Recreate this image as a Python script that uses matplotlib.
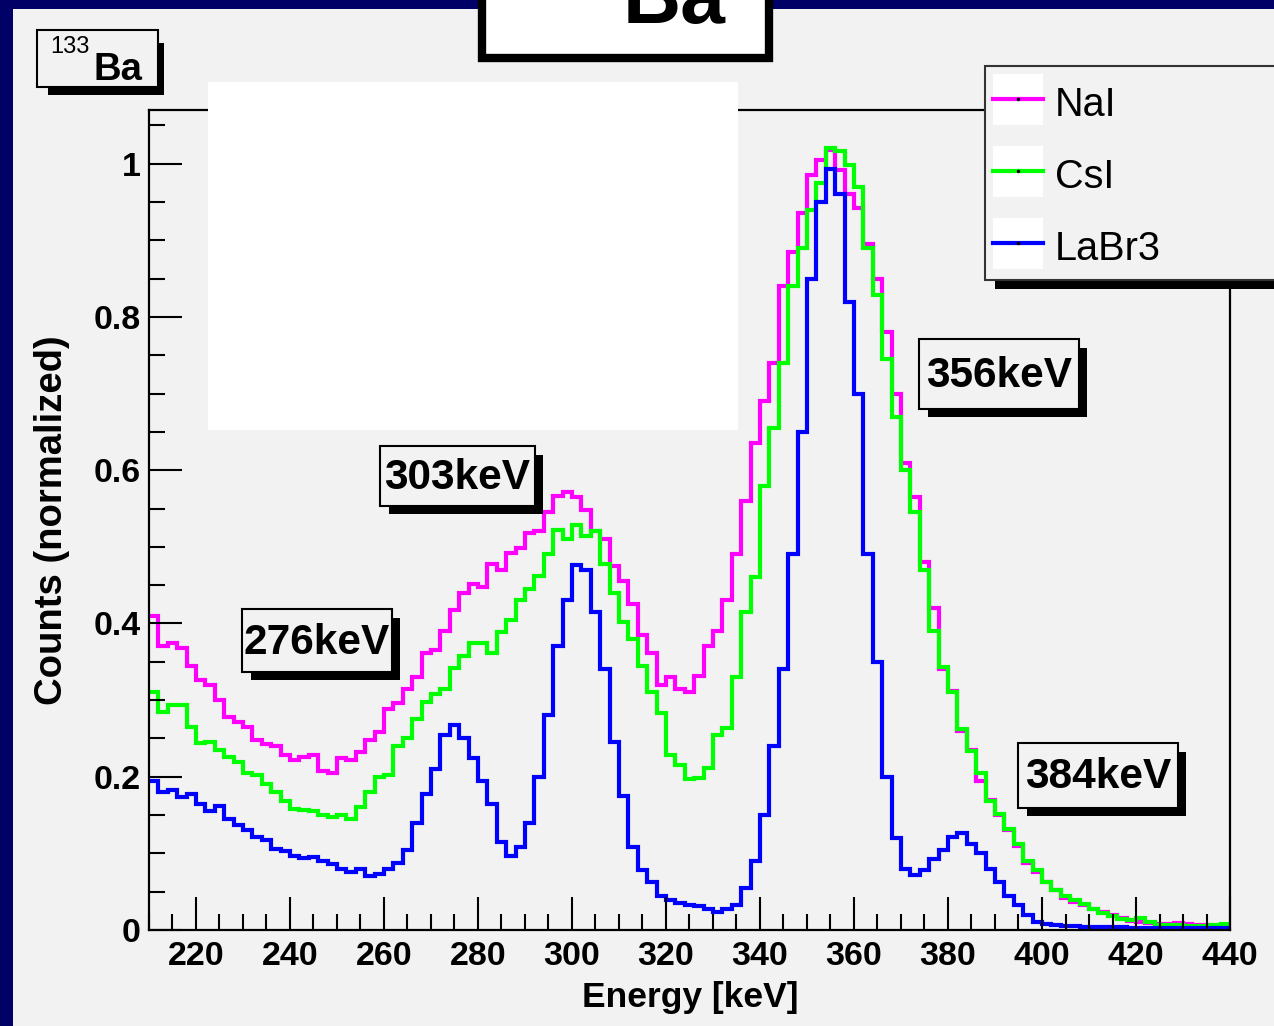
import numpy as np
import matplotlib.pyplot as plt
from matplotlib.patches import Rectangle
from matplotlib.lines import Line2D
from matplotlib.ticker import MultipleLocator

# histogram binning (keV)
edges = np.arange(210, 442, 2)

nai = [0.41, 0.37, 0.374, 0.368, 0.345, 0.326, 0.32, 0.30, 0.278, 0.272,
       0.265, 0.248, 0.243, 0.24, 0.228, 0.222, 0.226, 0.228, 0.208, 0.205,
       0.224, 0.222, 0.232, 0.248, 0.258, 0.288, 0.296, 0.315, 0.33, 0.362,
       0.365, 0.39, 0.418, 0.44, 0.452, 0.448, 0.478, 0.47, 0.492, 0.498,
       0.518, 0.521, 0.545, 0.566, 0.572, 0.565, 0.548, 0.52, 0.51, 0.475,
       0.455, 0.425, 0.385, 0.362, 0.32, 0.33, 0.314, 0.31, 0.332, 0.37,
       0.39, 0.43, 0.49, 0.56, 0.635, 0.69, 0.74, 0.84, 0.885, 0.935,
       0.985, 1.005, 1.018, 0.992, 0.96, 0.942, 0.895, 0.85, 0.78, 0.70,
       0.61, 0.565, 0.48, 0.42, 0.34, 0.312, 0.26, 0.235, 0.195, 0.17,
       0.15, 0.13, 0.11, 0.088, 0.076, 0.062, 0.052, 0.042, 0.037, 0.033,
       0.027, 0.023, 0.019, 0.016, 0.012, 0.01, 0.009, 0.008, 0.008, 0.009,
       0.008, 0.007, 0.006, 0.005, 0.005]

csi = [0.31, 0.285, 0.293, 0.293, 0.265, 0.244, 0.245, 0.235, 0.226, 0.219,
       0.205, 0.202, 0.19, 0.18, 0.168, 0.158, 0.156, 0.155, 0.15, 0.147,
       0.15, 0.145, 0.16, 0.18, 0.2, 0.202, 0.24, 0.25, 0.275, 0.298,
       0.308, 0.315, 0.342, 0.358, 0.374, 0.374, 0.362, 0.389, 0.405, 0.43,
       0.445, 0.462, 0.49, 0.522, 0.51, 0.528, 0.514, 0.52, 0.478, 0.44,
       0.402, 0.38, 0.345, 0.31, 0.283, 0.228, 0.215, 0.197, 0.198, 0.212,
       0.254, 0.263, 0.33, 0.415, 0.46, 0.58, 0.655, 0.74, 0.84, 0.89,
       0.94, 0.975, 1.02, 1.017, 0.998, 0.97, 0.89, 0.828, 0.745, 0.67,
       0.6, 0.545, 0.47, 0.39, 0.343, 0.31, 0.262, 0.233, 0.205, 0.168,
       0.152, 0.132, 0.112, 0.09, 0.078, 0.063, 0.052, 0.045, 0.039, 0.034,
       0.028, 0.022, 0.018, 0.015, 0.013, 0.016, 0.01, 0.007, 0.007, 0.006,
       0.005, 0.005, 0.005, 0.006, 0.008]

labr3 = [0.195, 0.18, 0.183, 0.174, 0.177, 0.165, 0.155, 0.162, 0.145, 0.137,
         0.13, 0.122, 0.117, 0.106, 0.103, 0.097, 0.094, 0.095, 0.09, 0.086,
         0.08, 0.076, 0.08, 0.07, 0.073, 0.08, 0.088, 0.105, 0.14, 0.178,
         0.21, 0.255, 0.268, 0.25, 0.225, 0.195, 0.165, 0.115, 0.097, 0.108,
         0.14, 0.2, 0.28, 0.37, 0.43, 0.476, 0.47, 0.415, 0.34, 0.245,
         0.175, 0.108, 0.078, 0.062, 0.045, 0.039, 0.035, 0.033, 0.031, 0.027,
         0.023, 0.027, 0.032, 0.055, 0.09, 0.15, 0.24, 0.34, 0.49, 0.65,
         0.85, 0.95, 0.993, 0.96, 0.82, 0.7, 0.49, 0.35, 0.2, 0.12,
         0.08, 0.072, 0.078, 0.092, 0.105, 0.122, 0.126, 0.112, 0.1, 0.08,
         0.062, 0.045, 0.032, 0.02, 0.011, 0.008, 0.006, 0.005, 0.005, 0.004,
         0.004, 0.004, 0.004, 0.004, 0.003, 0.003, 0.003, 0.003, 0.003, 0.003,
         0.003, 0.003, 0.003, 0.003, 0.003]

names = ["NaI", "CsI", "LaBr3"]
colors = ["#ff00ff", "#00ff00", "#0000ff"]
peaks = ["276keV", "303keV", "356keV", "384keV"]

plt.rcParams['font.family'] = ['Liberation Sans', 'DejaVu Sans']

W, H = 1274, 1026
BG = "#f2f2f2"
fig = plt.figure(figsize=(W / 100, H / 100), dpi=100, facecolor="#000066")


def fx(x):
    return x / W


def fy(y):
    return 1 - y / H


def box(x0, y0, x1, y1, z=2, **kw):
    r = Rectangle((fx(x0), fy(y1)), (x1 - x0) / W, (y1 - y0) / H,
                  transform=fig.transFigure, zorder=z, **kw)
    fig.patches.append(r)


# grey pad inside the navy frame
box(13, 9, W + 5, H + 5, z=-1, facecolor=BG, edgecolor="none")

ax = fig.add_axes([fx(149), fy(930), (1230 - 149) / W, (930 - 110) / H])
ax.set_facecolor(BG)
for spine in ax.spines.values():
    spine.set_linewidth(1.6)

for vals, c, n in zip([nai, csi, labr3], colors, names):
    ax.stairs(vals, edges, color=c, lw=3, baseline=None, label=n)

ax.set_xlim(210, 440)
ax.set_ylim(0, 1.07)
ax.xaxis.set_major_locator(MultipleLocator(20))
ax.xaxis.set_minor_locator(MultipleLocator(5))
ax.yaxis.set_major_locator(MultipleLocator(0.2))
ax.yaxis.set_minor_locator(MultipleLocator(0.05))
ax.tick_params(which="both", direction="in", top=False, right=False, width=1.5)
ax.tick_params(which="major", length=24)
ax.tick_params(which="minor", length=11.5)
ax.tick_params(axis="x", pad=8, labelsize=24.5)
ax.tick_params(axis="y", pad=6, labelsize=24.5)
ax.set_yticks([0, 0.2, 0.4, 0.6, 0.8, 1.0], ["0", "0.2", "0.4", "0.6", "0.8", "1"])
for lab in ax.get_xticklabels() + ax.get_yticklabels():
    lab.set_fontweight("bold")

fig.text(fx(690), fy(997), "Energy [keV]", fontsize=25.5, fontweight="bold",
         ha="center", va="center")
fig.text(fx(52), fy(520), "Counts (normalized)", fontsize=27.5, fontweight="bold",
         ha="center", va="center", rotation=90)

# blank white patch over the plot
box(208, 82, 738, 430, z=2, facecolor="white", edgecolor="none")

# title box, cut by the top edge
box(482, -40, 769, 58, z=2, facecolor="white", edgecolor="black", lw=6)
fig.text(fx(674), fy(23), "Ba", fontsize=58, fontweight="bold", va="baseline",
         ha="center", zorder=4)

# 133Ba label
box(48, 43, 164, 95, z=2, facecolor="black", edgecolor="none")
box(37, 30, 158, 87, z=2.1, facecolor=BG, edgecolor="black", lw=1.5)
fig.text(fx(50), fy(53), "133", fontsize=17, va="baseline", ha="left", zorder=4)
fig.text(fx(93), fy(80), "Ba", fontsize=27.5, fontweight="bold", va="baseline",
         ha="left", zorder=4)

# peak annotations
ann_boxes = [(242, 609, 392, 672), (380, 446, 535, 506),
             (919, 339, 1079, 409), (1018, 743, 1178, 808)]
for lab, (x0, y0, x1, y1) in zip(peaks, ann_boxes):
    box(x0 + 9, y0 + 9, x1 + 8, y1 + 8, z=2, facecolor="black", edgecolor="none")
    box(x0, y0, x1, y1, z=2.1, facecolor=BG, edgecolor="black", lw=1.5)
    fig.text(fx((x0 + x1) / 2), fy((y0 + y1) / 2 + 2), lab, fontsize=30.5,
             fontweight="bold", ha="center", va="center", zorder=4)

# legend
box(995, 72, W + 10, 289, z=2, facecolor="black", edgecolor="none")
box(985, 66, W + 10, 280, z=2.1, facecolor=BG, edgecolor="#333333", lw=1.5)
for i, (n, c) in enumerate(zip(names, colors)):
    yc = 99 + i * 72
    box(993, yc - 25, 1043, yc + 26, z=2.2, facecolor="white", edgecolor="none")
    fig.lines.append(Line2D([fx(993), fx(1043)], [fy(yc), fy(yc)], color=c, lw=3,
                            transform=fig.transFigure, zorder=3))
    fig.lines.append(Line2D([fx(1018)], [fy(yc)], marker="o", ms=1.5, color="black",
                            transform=fig.transFigure, zorder=3.1))
    fig.text(fx(1055), fy(yc + 6), n, fontsize=28.5, ha="left", va="center", zorder=4)

fig.savefig("out.png", dpi=100, facecolor=fig.get_facecolor())
